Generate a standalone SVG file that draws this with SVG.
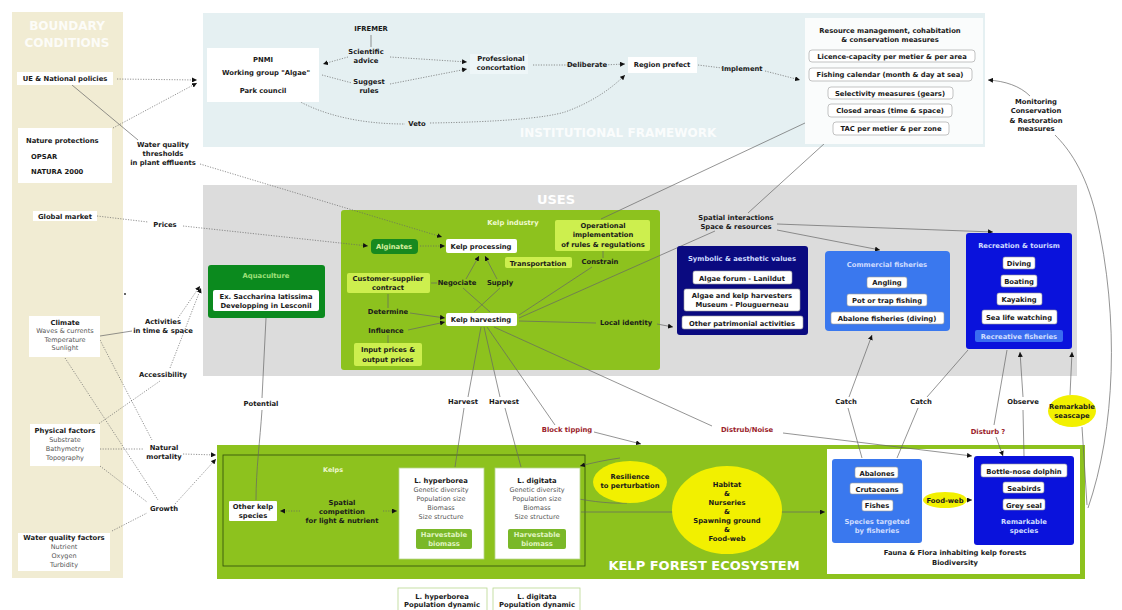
<svg xmlns="http://www.w3.org/2000/svg" width="1122" height="610" viewBox="0 0 1122 610">
<style>
text{font-family:"DejaVu Sans",Verdana,"Liberation Sans",sans-serif}
.t{font-size:6.8px;font-weight:bold;fill:#1a1a1a;text-anchor:middle}
.tl{font-size:6.8px;font-weight:bold;fill:#1a1a1a}
.n{font-size:6.5px;fill:#555;text-anchor:middle}
.lt{font-size:6.8px;font-weight:bold;fill:#cfdcff;text-anchor:middle}
.r{font-size:6.8px;font-weight:bold;fill:#9a1c2a;text-anchor:middle}
.big{font-weight:bold;fill:#fff;text-anchor:middle}
.wb{fill:#fff}
.ib{fill:#fff;stroke:#9a9a9a;stroke-width:.6}
.lg{fill:#cdef4e}
.blu{fill:#3a78ee}
.dblu{fill:#0a12dc}
.yel{fill:#f2f000}
.c{fill:none;stroke:#666;stroke-width:.7}
.d{stroke-dasharray:1.2 1.4}
</style>
<defs>
<marker id="a" markerUnits="userSpaceOnUse" markerWidth="5" markerHeight="5" refX="5" refY="2.5" orient="auto"><path d="M0,0 L5,2.5 L0,5 z" fill="#111"/></marker>
</defs>
<rect width="1122" height="610" fill="#fff"/>
<!-- panels -->
<g id="boundary-panel">
<rect x="12" y="12" width="111" height="566" fill="#f1ecd3"/>
<text class="big" x="67" y="30" font-size="12" fill-opacity=".85">BOUNDARY</text>
<text class="big" x="67" y="47" font-size="12" fill-opacity=".85">CONDITIONS</text>
</g>
<g id="institutional-panel">
<rect x="203" y="13" width="782" height="134" fill="#e5f0f2"/>
<text class="big" x="618" y="137" font-size="12" fill-opacity=".85">INSTITUTIONAL FRAMEWORK</text>
</g>
<g id="uses-panel">
<rect x="203" y="185" width="874" height="191" fill="#dcdcdc"/>
<text class="big" x="556" y="204" font-size="13">USES</text>
</g>
<g id="ecosystem-panel">
<rect x="217" y="445" width="868" height="134" fill="#8dc21e"/>
<rect x="223" y="455" width="362" height="111" fill="none" stroke="#2f4d0a" stroke-width=".8"/>
<text x="333" y="472" font-size="6.5" font-weight="bold" fill="#eef8d0" text-anchor="middle">Kelps</text>
<rect x="827" y="449" width="253" height="125" fill="#fff"/>
<text class="t" x="955" y="555">Fauna &amp; Flora inhabiting kelp forests</text>
<text class="t" x="955" y="565">Biodiversity</text>
<text class="big" x="704" y="570" font-size="13">KELP FOREST ECOSYSTEM</text>
</g>
<g id="kelp-industry">
<rect x="341" y="210" width="319" height="160" rx="3" fill="#8dc21e"/>
<text x="513" y="225" font-size="6.8" font-weight="bold" fill="#f0fad0" text-anchor="middle">Kelp industry</text>
</g>
<!-- connectors -->
<g id="connectors">
<path class="c d" d="M117,79 L197,80" marker-end="url(#a)"/>
<path class="c d" d="M113,128 L197,83" marker-end="url(#a)"/>
<path class="c" d="M72,85 L138,140"/>
<path class="c d" d="M200,164 L442,237" marker-end="url(#a)"/>
<path class="c d" d="M97,216 L148,222"/>
<path class="c d" d="M183,226 L368,246" marker-end="url(#a)"/>
<path class="c" d="M100,336 L132,331"/>
<path class="c d" d="M178,318 L200,286" marker-end="url(#a)"/>
<path class="c d" d="M170,368 L201,288" marker-end="url(#a)"/>
<path class="c d" d="M97,425 L160,381"/>
<path class="c d" d="M100,340 L152,440"/>
<path class="c d" d="M65,358 L158,500"/>
<path class="c d" d="M100,449 L143,449"/>
<path class="c d" d="M100,466 L147,502"/>
<path class="c d" d="M112,531 L147,513"/>
<path class="c d" d="M183,454 L216,455" marker-end="url(#a)"/>
<path class="c d" d="M175,504 L216,459" marker-end="url(#a)"/>
<path class="c" d="M371,35 L371,47"/>
<path class="c d" d="M348,57 L323,64" marker-end="url(#a)"/>
<path class="c d" d="M390,57 L467,62" marker-end="url(#a)"/>
<path class="c d" d="M322,75 L352,83"/>
<path class="c d" d="M390,84 L467,69" marker-end="url(#a)"/>
<path class="c d" d="M533,65 L573,65"/>
<path class="c d" d="M603,65 L625,64" marker-end="url(#a)"/>
<path class="c d" d="M290,96 C320,115 360,124 405,124"/>
<path class="c d" d="M430,123 C500,122 545,118 565,112 C590,103 610,90 625,75" marker-end="url(#a)"/>
<path class="c d" d="M698,65 L722,68"/>
<path class="c d" d="M765,71 L800,80" marker-end="url(#a)"/>
<path class="c" d="M1030,96 C1020,86 1005,81 988,80" marker-end="url(#a)"/>
<path class="c" d="M1088,508 C1115,430 1120,320 1096,215 C1085,170 1068,148 1055,135"/>
<path class="c" d="M805,123 L601,219"/>
<path class="c" d="M825,143 L748,213"/>
<path class="c" d="M777,224 L993,232" marker-end="url(#a)"/>
<path class="c" d="M777,230 L880,250" marker-end="url(#a)"/>
<path class="c" d="M519,318 L715,231"/>
<path class="c" d="M519,315 L592,267"/>
<path class="c" d="M603,258 L603,251"/>
<path class="c" d="M519,321 L596,323"/>
<path class="c" d="M657,324 L673,327" marker-end="url(#a)"/>
<path class="c d" d="M420,246 L445,246" marker-end="url(#a)"/>
<path class="c" d="M466,279 L479,256" marker-end="url(#a)"/>
<path class="c" d="M497,279 L485,256" marker-end="url(#a)"/>
<path class="c" d="M463,288 L490,312"/>
<path class="c" d="M500,288 L474,312"/>
<path class="c" d="M431,283 L437,283"/>
<path class="c" d="M388,294 L388,308"/>
<path class="c" d="M410,313 L445,318" marker-end="url(#a)"/>
<path class="c" d="M408,330 L445,322" marker-end="url(#a)"/>
<path class="c" d="M388,343 L388,335"/>
<path class="c" d="M266,318 L262,398"/>
<path class="c" d="M262,410 C260,440 256,470 256,500"/>
<path class="c" d="M481,327 L468,397"/>
<path class="c" d="M484,327 L500,397"/>
<path class="c" d="M464,408 L455,467"/>
<path class="c" d="M505,408 L521,467"/>
<path class="c" d="M487,327 L555,425"/>
<path class="c" d="M594,432 L641,444" marker-end="url(#a)"/>
<path class="c" d="M494,327 L712,426"/>
<path class="c" d="M783,433 L972,456" marker-end="url(#a)"/>
<path class="c" d="M849,397 L872,335" marker-end="url(#a)"/>
<path class="c" d="M848,408 L862,458"/>
<path class="c" d="M927,397 L968,350"/>
<path class="c" d="M918,408 L897,458"/>
<path class="c" d="M1007,350 L994,425"/>
<path class="c" d="M996,437 L1003,456" marker-end="url(#a)"/>
<path class="c" d="M1023,397 L1020,352" marker-end="url(#a)"/>
<path class="c" d="M1023,410 L1024,456"/>
<path class="c" d="M1070,395 L1072,352" marker-end="url(#a)"/>
<path class="c" d="M1082,427 L1087,505"/>
<path class="c d" d="M300,511 L280,511" marker-end="url(#a)"/>
<path class="c d" d="M383,511 L397,511" marker-end="url(#a)"/>
<path class="c" d="M581,512 L825,512" marker-end="url(#a)"/>
<path class="c" d="M620,458 C605,460 592,463 580,466" marker-end="url(#a)"/>
<path class="c" d="M567,497 C585,500 605,504 627,503"/>
<path class="c" d="M967,500 L972,500" marker-end="url(#a)"/>
<circle cx="125" cy="294" r="1" fill="#333"/>
<!-- connector labels -->
<text class="t"><tspan x="163" y="147">Water quality</tspan><tspan x="163" y="156">thresholds</tspan><tspan x="163" y="165">in plant effluents</tspan></text>
<text class="t" x="165" y="227">Prices</text>
<text class="t"><tspan x="163" y="324">Activities</tspan><tspan x="163" y="333">in time &amp; space</tspan></text>
<text class="t" x="163" y="377">Accessibility</text>
<text class="t"><tspan x="164" y="450">Natural</tspan><tspan x="164" y="459">mortality</tspan></text>
<text class="t" x="164" y="511">Growth</text>
<text class="t"><tspan x="366" y="54">Scientific</tspan><tspan x="366" y="63">advice</tspan></text>
<text class="t"><tspan x="369" y="84">Suggest</tspan><tspan x="369" y="93">rules</tspan></text>
<text class="t" x="587" y="67">Deliberate</text>
<text class="t" x="742" y="71">Implement</text>
<text class="t" x="417" y="126">Veto</text>
<text class="t"><tspan x="1036" y="104">Monitoring</tspan><tspan x="1036" y="113">Conservation</tspan><tspan x="1036" y="123">&amp; Restoration</tspan><tspan x="1036" y="131">measures</tspan></text>
<text class="t"><tspan x="736" y="220">Spatial interactions</tspan><tspan x="736" y="229">Space &amp; resources</tspan></text>
<text class="t" x="600" y="264">Constrain</text>
<text class="t" x="457" y="285">Negociate</text>
<text class="t" x="500" y="285">Supply</text>
<text class="t" x="388" y="314">Determine</text>
<text class="t" x="386" y="333">Influence</text>
<text class="t" x="626" y="325">Local identity</text>
<text class="t" x="261" y="406">Potential</text>
<text class="t" x="463" y="404">Harvest</text>
<text class="t" x="504" y="404">Harvest</text>
<text class="r" x="567" y="432">Block tipping</text>
<text class="r" x="747" y="432">Distrub/Noise</text>
<text class="t" x="846" y="404">Catch</text>
<text class="t" x="921" y="404">Catch</text>
<text class="t" x="1023" y="404">Observe</text>
<text class="r" x="988" y="434">Disturb ?</text>
<text class="t"><tspan x="342" y="505">Spatial</tspan><tspan x="342" y="514">competition</tspan><tspan x="342" y="523">for light &amp; nutrient</tspan></text>
</g>
<!-- boundary nodes -->
<g id="n-ue"><rect class="wb" x="17" y="72" width="96" height="13"/><text class="t" x="65" y="81">UE &amp; National policies</text></g>
<g id="n-nature"><rect class="wb" x="18" y="128" width="94" height="55"/><text class="tl" x="26" y="143">Nature protections</text><text class="tl" x="31" y="159">OPSAR</text><text class="tl" x="31" y="174">NATURA 2000</text></g>
<g id="n-global"><rect class="wb" x="33" y="211" width="64" height="10"/><text class="t" x="65" y="219">Global market</text></g>
<g id="n-climate"><rect class="wb" x="29" y="316" width="71" height="41"/><text class="t" x="65" y="325">Climate</text><text class="n"><tspan x="65" y="333">Waves &amp; currents</tspan><tspan x="65" y="342">Temperature</tspan><tspan x="65" y="350">Sunlight</tspan></text></g>
<g id="n-physical"><rect class="wb" x="30" y="424" width="70" height="42"/><text class="t" x="65" y="433">Physical factors</text><text class="n"><tspan x="65" y="442">Substrate</tspan><tspan x="65" y="451">Bathymetry</tspan><tspan x="65" y="460">Topography</tspan></text></g>
<g id="n-waterq"><rect class="wb" x="18" y="533" width="92" height="38"/><text class="t" x="64" y="540">Water quality factors</text><text class="n"><tspan x="64" y="549">Nutrient</tspan><tspan x="64" y="558">Oxygen</tspan><tspan x="64" y="567">Turbidity</tspan></text></g>
<!-- institutional nodes -->
<g id="n-pnmi"><rect class="wb" x="207" y="48" width="112" height="54"/><text class="t" x="263" y="62">PNMI</text><text class="t" x="266" y="75">Working group "Algae"</text><text class="t" x="263" y="93">Park council</text></g>
<g id="n-ifremer"><text class="t" x="371" y="31">IFREMER</text></g>
<g id="n-prof"><rect x="470" y="54" width="58" height="20" fill="#eef6f8"/><text class="t"><tspan x="501" y="61">Professional</tspan><tspan x="501" y="70">concortation</tspan></text></g>
<g id="n-region"><rect class="wb" x="628" y="57" width="69" height="16"/><text class="t" x="662" y="67">Region prefect</text></g>
<g id="n-resource"><rect x="805" y="18" width="178" height="126" fill="#fafcfc"/>
<text class="t" x="890" y="33">Resource management, cohabitation</text><text class="t" x="890" y="42">&amp; conservation measures</text>
<rect class="ib" x="809" y="50" width="166" height="12" rx="3"/><text class="t" x="892" y="59">Licence-capacity per metier &amp; per area</text>
<rect class="ib" x="809" y="68" width="163" height="13" rx="3"/><text class="t" x="890" y="77">Fishing calendar (month &amp; day at sea)</text>
<rect class="ib" x="828" y="87" width="125" height="12" rx="3"/><text class="t" x="890" y="96">Selectivity measures (gears)</text>
<rect class="ib" x="828" y="104" width="124" height="13" rx="3"/><text class="t" x="890" y="113">Closed areas (time &amp; space)</text>
<rect class="ib" x="833" y="122" width="116" height="13" rx="3"/><text class="t" x="891" y="131">TAC per metier &amp; per zone</text>
</g>
<!-- uses nodes -->
<g id="n-aquaculture"><rect x="208" y="265" width="117" height="53" rx="3" fill="#0b8a1e"/><text x="266" y="278" font-size="6.8" font-weight="bold" fill="#9fe07a" text-anchor="middle">Aquaculture</text><rect class="wb" x="213" y="290" width="106" height="21" rx="2"/><text class="t" x="266" y="299">Ex. Saccharina latissima</text><text class="t" x="266" y="308">Developping in Lesconil</text></g>
<g id="n-alginates"><rect x="371" y="239" width="47" height="15" rx="4" fill="#17891f"/><text x="394" y="249" font-size="6.8" font-weight="bold" fill="#d8f0a0" text-anchor="middle">Alginates</text></g>
<g id="n-processing"><rect class="wb" x="446" y="239" width="71" height="14" rx="2"/><text class="t" x="481" y="249">Kelp processing</text></g>
<g id="n-operational"><rect class="lg" x="555" y="220" width="95" height="31" rx="2"/><text class="t"><tspan x="603" y="228">Operational</tspan><tspan x="603" y="237">implementation</tspan><tspan x="603" y="247">of rules &amp; regulations</tspan></text></g>
<g id="n-transport"><rect class="lg" x="505" y="257" width="67" height="11" rx="2"/><text class="t" x="538" y="266">Transportation</text></g>
<g id="n-customer"><rect class="lg" x="347" y="273" width="83" height="20" rx="2"/><text class="t"><tspan x="388" y="281">Customer-supplier</tspan><tspan x="388" y="290">contract</tspan></text></g>
<g id="n-harvesting"><rect class="wb" x="446" y="313" width="71" height="13" rx="2"/><text class="t" x="481" y="322">Kelp harvesting</text></g>
<g id="n-prices"><rect class="lg" x="354" y="343" width="68" height="23" rx="2"/><text class="t"><tspan x="388" y="352">Input prices &amp;</tspan><tspan x="388" y="362">output prices</tspan></text></g>
<g id="n-symbolic"><rect x="677" y="246" width="131" height="89" rx="3" fill="#0a0a80"/><text class="lt" x="742" y="261">Symbolic &amp; aesthetic values</text>
<rect class="ib" x="693" y="271" width="99" height="13" rx="2"/><text class="t" x="742" y="281">Algae forum - Lanildut</text>
<rect class="ib" x="684" y="289" width="116" height="22" rx="2"/><text class="t"><tspan x="742" y="298">Algae and kelp harvesters</tspan><tspan x="742" y="307">Museum - Plouguerneau</tspan></text>
<rect class="ib" x="682" y="316" width="121" height="13" rx="2"/><text class="t" x="742" y="326">Other patrimonial activities</text></g>
<g id="n-commercial"><rect class="blu" x="825" y="251" width="125" height="80" rx="4"/><text class="lt" x="887" y="267">Commercial fisheries</text>
<rect class="ib" x="867" y="277" width="40" height="11" rx="2"/><text class="t" x="887" y="285">Angling</text>
<rect class="ib" x="847" y="294" width="80" height="12" rx="2"/><text class="t" x="887" y="303">Pot or trap fishing</text>
<rect class="ib" x="831" y="312" width="113" height="12" rx="2"/><text class="t" x="887" y="321">Abalone fisheries (diving)</text></g>
<g id="n-recreation"><rect class="dblu" x="966" y="233" width="106" height="116" rx="3"/><text class="lt" x="1019" y="248">Recreation &amp; tourism</text>
<rect class="ib" x="1003" y="257" width="32" height="12" rx="2"/><text class="t" x="1019" y="266">Diving</text>
<rect class="ib" x="1001" y="275" width="36" height="12" rx="2"/><text class="t" x="1019" y="284">Boating</text>
<rect class="ib" x="997" y="293" width="45" height="12" rx="2"/><text class="t" x="1019" y="302">Kayaking</text>
<rect class="ib" x="982" y="310" width="75" height="14" rx="2"/><text class="t" x="1019" y="320">Sea life watching</text>
<rect x="975" y="330" width="88" height="12" rx="2" fill="#3a6cf0"/><text class="lt" x="1019" y="339">Recreative fisheries</text></g>
<!-- ecosystem nodes -->
<g id="n-other"><rect class="wb" x="229" y="501" width="48" height="20" rx="1"/><text class="t"><tspan x="253" y="509">Other kelp</tspan><tspan x="253" y="518">species</tspan></text></g>
<g id="n-hyper"><rect class="wb" x="399" y="468" width="85" height="91" stroke="#b8d890" stroke-width=".8"/><text class="t" x="441" y="483">L. hyperborea</text><text class="n"><tspan x="441" y="492">Genetic diversity</tspan><tspan x="441" y="501">Population size</tspan><tspan x="441" y="510">Biomass</tspan><tspan x="441" y="519">Size structure</tspan></text><rect x="416" y="529" width="56" height="20" rx="2" fill="#7ab828"/><text x="444" y="537" font-size="6.8" font-weight="bold" fill="#e0f4c0" text-anchor="middle">Harvestable</text><text x="444" y="546" font-size="6.8" font-weight="bold" fill="#e0f4c0" text-anchor="middle">biomass</text></g>
<g id="n-digitata"><rect class="wb" x="495" y="468" width="85" height="91" stroke="#b8d890" stroke-width=".8"/><text class="t" x="537" y="483">L. digitata</text><text class="n"><tspan x="537" y="492">Genetic diversity</tspan><tspan x="537" y="501">Population size</tspan><tspan x="537" y="510">Biomass</tspan><tspan x="537" y="519">Size structure</tspan></text><rect x="508" y="529" width="58" height="20" rx="2" fill="#7ab828"/><text x="537" y="537" font-size="6.8" font-weight="bold" fill="#e0f4c0" text-anchor="middle">Harvestable</text><text x="537" y="546" font-size="6.8" font-weight="bold" fill="#e0f4c0" text-anchor="middle">biomass</text></g>
<g id="n-resilience"><ellipse class="yel" cx="630" cy="482" rx="37" ry="21"/><text class="t"><tspan x="630" y="479">Resilience</tspan><tspan x="630" y="488">to perturbation</tspan></text></g>
<g id="n-habitat"><ellipse class="yel" cx="727" cy="510" rx="55" ry="44"/><text class="t"><tspan x="727" y="487">Habitat</tspan><tspan x="727" y="496">&amp;</tspan><tspan x="727" y="505">Nurseries</tspan><tspan x="727" y="514">&amp;</tspan><tspan x="727" y="523">Spawning ground</tspan><tspan x="727" y="532">&amp;</tspan><tspan x="727" y="541">Food-web</tspan></text></g>
<g id="n-targeted"><rect class="blu" x="832" y="459" width="90" height="84" rx="3"/>
<rect class="ib" x="855" y="467" width="43" height="11" rx="2"/><text class="t" x="877" y="476">Abalones</text>
<rect class="ib" x="850" y="483" width="53" height="11" rx="2"/><text class="t" x="877" y="492">Crutaceans</text>
<rect class="ib" x="862" y="500" width="31" height="11" rx="2"/><text class="t" x="877" y="508">Fishes</text>
<text class="lt"><tspan x="877" y="524">Species targeted</tspan><tspan x="877" y="533">by  fisheries</tspan></text></g>
<g id="n-foodweb"><ellipse class="yel" cx="945" cy="500" rx="22" ry="8"/><text class="t" x="945" y="503">Food-web</text></g>
<g id="n-remarkable"><rect class="dblu" x="974" y="456" width="100" height="89" rx="3"/>
<rect class="ib" x="981" y="464" width="86" height="13" rx="2"/><text class="t" x="1024" y="474">Bottle-nose dolphin</text>
<rect class="ib" x="1003" y="482" width="41" height="11" rx="2"/><text class="t" x="1024" y="491">Seabirds</text>
<rect class="ib" x="1003" y="499" width="42" height="11" rx="2"/><text class="t" x="1024" y="508">Grey seal</text>
<text class="lt"><tspan x="1024" y="524">Remarkable</tspan><tspan x="1024" y="533">species</tspan></text></g>
<g id="n-seascape"><ellipse class="yel" cx="1072" cy="411" rx="24" ry="16"/><text class="t"><tspan x="1072" y="409">Remarkable</tspan><tspan x="1072" y="418">seascape</tspan></text></g>
<g id="n-hyper-pd"><rect class="wb" x="398" y="588" width="89" height="24" stroke="#b8d890" stroke-width=".8"/><text class="t"><tspan x="442" y="599">L. hyperborea</tspan><tspan x="442" y="607">Population dynamic</tspan></text></g>
<g id="n-digitata-pd"><rect class="wb" x="493" y="588" width="87" height="24" stroke="#b8d890" stroke-width=".8"/><text class="t"><tspan x="537" y="599">L. digitata</tspan><tspan x="537" y="607">Population dynamic</tspan></text></g>
</svg>
